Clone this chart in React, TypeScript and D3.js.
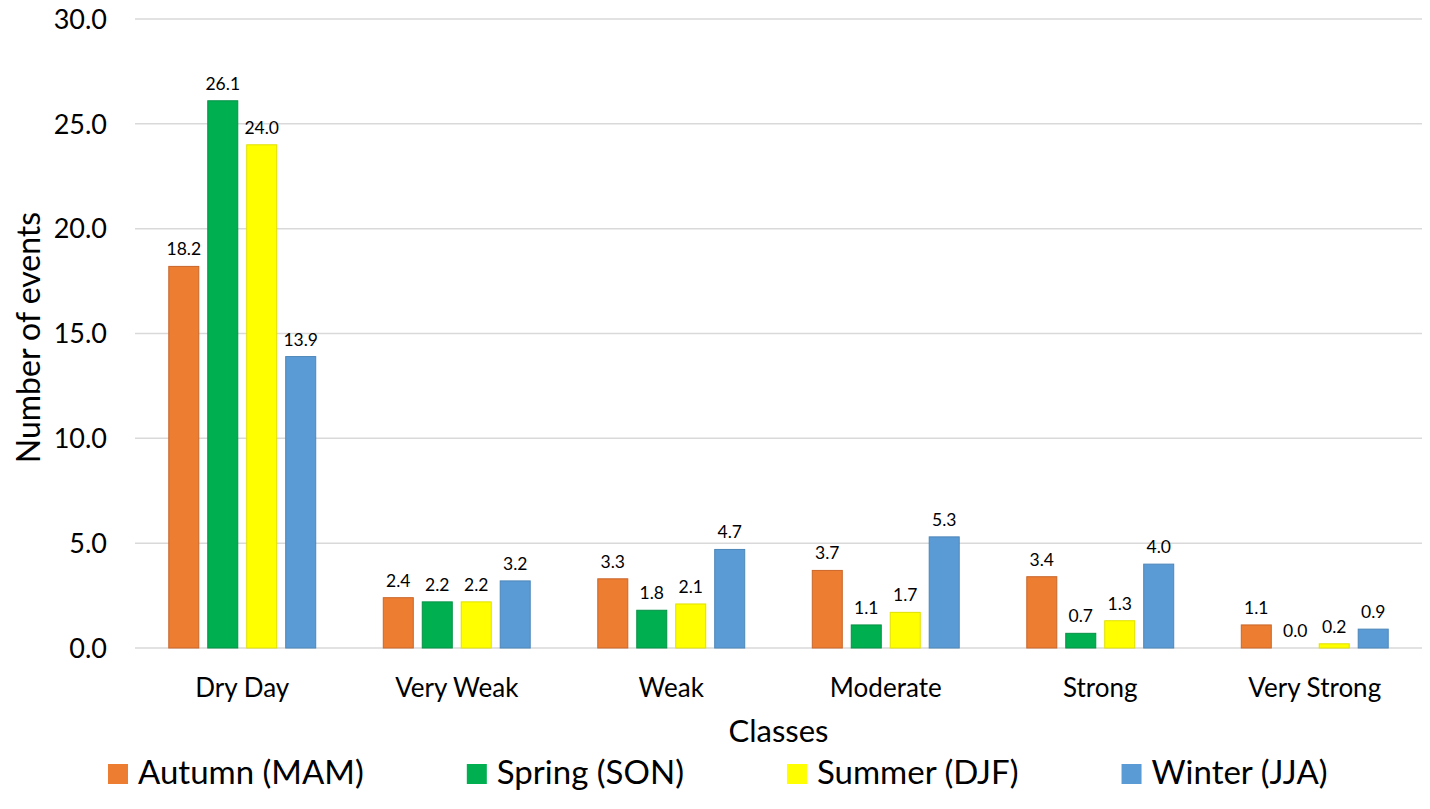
import React, { useEffect, useRef } from 'react';
import * as d3 from 'd3';

const classes = ['Dry Day', 'Very Weak', 'Weak', 'Moderate', 'Strong', 'Very Strong'];
const seasons = ['Autumn (MAM)', 'Spring (SON)', 'Summer (DJF)', 'Winter (JJA)'];
const seasonColors = ['#ED7D31', '#00B050', '#FFFF00', '#5B9BD5'];
const seasonStrokes = ['#c9662a', '#069146', '#e0e000', '#4d86b8'];

const autumn = [18.2, 2.4, 3.3, 3.7, 3.4, 1.1];
const spring = [26.1, 2.2, 1.8, 1.1, 0.7, 0.0];
const summer = [24.0, 2.2, 2.1, 1.7, 1.3, 0.2];
const winter = [13.9, 3.2, 4.7, 5.3, 4.0, 0.9];
const seriesValues = [autumn, spring, summer, winter];

const yTicks = [0, 5, 10, 15, 20, 25, 30];

const W = 1430;
const H = 809;
const FONT = 'Lato, "Open Sans", sans-serif';

const App: React.FC = () => {
  const svgRef = useRef<SVGSVGElement | null>(null);

  useEffect(() => {
    document.body.style.margin = '0';
    const svgEl = svgRef.current;
    if (!svgEl) return;
    const svg = d3.select(svgEl);
    svg.selectAll('*').remove();

    const left = 135;
    const right = 1422;
    const top = 19;
    const bottom = 648;

    const y = d3.scaleLinear().domain([0, 30]).range([bottom, top]);
    const x0 = d3.scaleBand<string>().domain(classes).range([left, right])
      .paddingInner(0.315).paddingOuter(0.1575);
    const x1 = d3.scaleBand<string>().domain(seasons).range([0, x0.bandwidth()])
      .paddingInner(0.23);

    // gridlines
    svg.append('g').selectAll('line').data(yTicks).enter().append('line')
      .attr('x1', left).attr('x2', right)
      .attr('y1', (d) => y(d)).attr('y2', (d) => y(d))
      .attr('stroke', '#d9d9d9').attr('stroke-width', 1.5);

    // y tick labels
    svg.append('g').selectAll('text').data(yTicks).enter().append('text')
      .attr('x', 107).attr('y', (d) => y(d))
      .attr('dy', '0.36em')
      .attr('text-anchor', 'end')
      .style('font-family', FONT).style('font-size', '27px').attr('fill', '#000')
      .text((d) => d.toFixed(1));

    // bars
    const groups = svg.append('g').selectAll('g').data(classes).enter().append('g')
      .attr('transform', (c) => `translate(${x0(c)},0)`);

    groups.each(function (c, ci) {
      const g = d3.select(this);
      seasons.forEach((s, si) => {
        const v = seriesValues[si][ci];
        if (v > 0) {
          g.append('rect')
            .attr('x', x1(s)!)
            .attr('y', y(v))
            .attr('width', x1.bandwidth())
            .attr('height', y(0) - y(v))
            .attr('fill', seasonColors[si])
            .attr('stroke', seasonStrokes[si])
            .attr('stroke-width', 1);
        }
        g.append('text')
          .attr('x', x1(s)! + x1.bandwidth() / 2)
          .attr('y', y(v) - 11)
          .attr('text-anchor', 'middle')
          .style('font-family', FONT).style('font-size', '17.5px').attr('fill', '#000')
          .text(v.toFixed(1));
      });
    });

    // category labels
    svg.append('g').selectAll('text').data(classes).enter().append('text')
      .attr('x', (c) => x0(c)! + x0.bandwidth() / 2)
      .attr('y', 697)
      .attr('text-anchor', 'middle')
      .style('font-family', FONT).style('font-size', '26px').attr('fill', '#000')
      .text((c) => c);

    // axis titles
    svg.append('text')
      .attr('x', (left + right) / 2).attr('y', 742)
      .attr('text-anchor', 'middle')
      .style('font-family', FONT).style('font-size', '31px').attr('fill', '#000')
      .text('Classes');

    svg.append('text')
      .attr('transform', `translate(40, ${(top + bottom) / 2 + 4}) rotate(-90)`)
      .attr('text-anchor', 'middle')
      .style('font-family', FONT).style('font-size', '32px').attr('fill', '#000')
      .text('Number of events');

    // legend, laid out from the measured text widths
    const legend = svg.append('g');
    let lx = 108;
    seasons.forEach((s, si) => {
      legend.append('rect')
        .attr('x', lx).attr('y', 764).attr('width', 20).attr('height', 20)
        .attr('fill', seasonColors[si]);
      const t = legend.append('text')
        .attr('x', lx + 30).attr('y', 784)
        .style('font-family', FONT).style('font-size', '33px').attr('fill', '#000')
        .text(s);
      const w = (t.node() as SVGTextElement).getComputedTextLength();
      lx += 30 + w + 103;
    });
  }, []);

  return <svg ref={svgRef} width={W} height={H} style={{ display: 'block', background: '#fff' }} />;
};

export default App;
